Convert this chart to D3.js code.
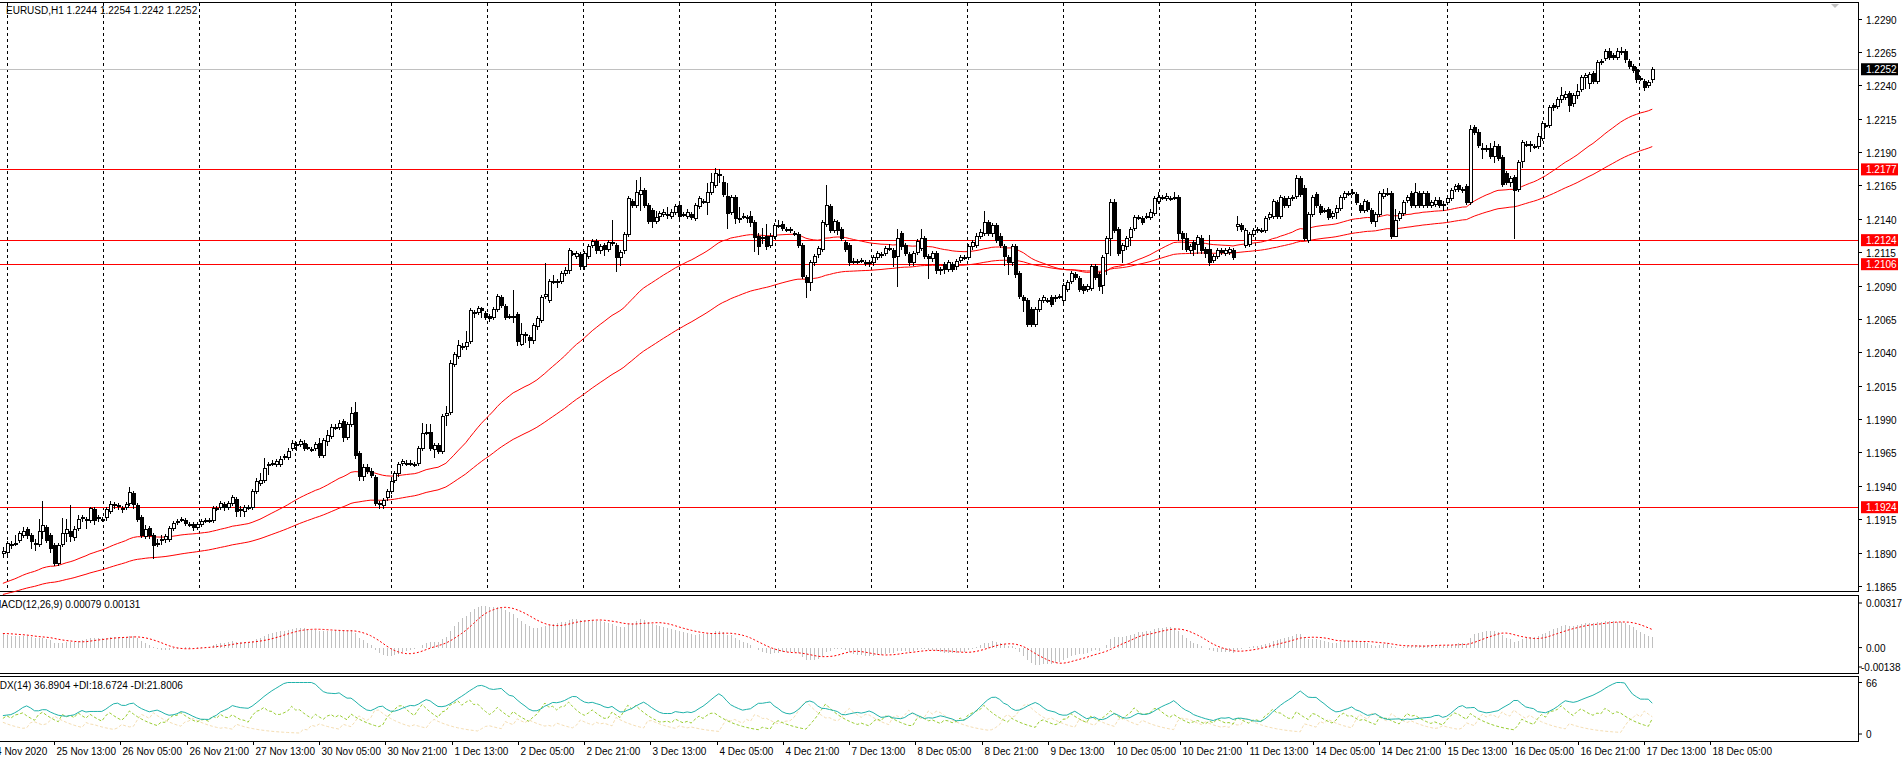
<!DOCTYPE html>
<html>
<head>
<meta charset="utf-8">
<script src="https://cdn.jsdelivr.net/npm/d3@7"></script>
<style>
  body { margin: 0; background: #fff; }
  svg { display: block; font-family: "Liberation Sans", Arial, sans-serif; }
  .crisp { shape-rendering: crispEdges; }
</style>
</head>
<body>
<svg id="chart" width="1904" height="760"></svg>
<script>
// ===== data (EURUSD H1, prices as 1.xxxx -> xxxx) =====
// [open, close, high, low]
const barsWeek1 = [
[1889,1891,1894,1886],[1890,1897,1899,1888],[1896,1896,1899,1893],[1897,1897,1903,1895],[1899,1904,1906,1897],
[1903,1906,1909,1901],[1907,1903,1909,1900],[1903,1898,1905,1893],[1897,1897,1900,1891],[1896,1906,1915,1894],
[1906,1910,1929,1900],[1909,1899,1911,1897],[1903,1893,1905,1890],[1895,1882,1897,1880],[1882,1895,1897,1880],
[1896,1904,1916,1894],[1904,1907,1915,1898],[1906,1902,1926,1898],[1901,1907,1910,1899],[1908,1915,1918,1906],
[1916,1916,1918,1913],[1915,1915,1917,1908],[1914,1923,1924,1912],[1922,1914,1924,1911],[1916,1916,1918,1913],
[1915,1915,1917,1913],[1916,1922,1924,1914],[1921,1926,1929,1919],[1926,1926,1928,1923],[1925,1925,1927,1922],
[1923,1923,1925,1920],[1924,1926,1928,1922],[1927,1935,1939,1925],[1934,1926,1936,1923],[1925,1915,1927,1913],
[1916,1903,1918,1901],[1902,1907,1911,1900],[1908,1903,1910,1900],[1903,1895,1905,1885],[1897,1897,1900,1894],
[1899,1900,1903,1896],[1900,1902,1904,1897],[1900,1908,1910,1898],[1908,1912,1914,1906],[1913,1913,1915,1911],
[1915,1915,1917,1913],[1914,1912,1916,1910],[1911,1911,1913,1909],[1911,1909,1913,1906],[1909,1911,1913,1907],
[1911,1913,1915,1909],[1914,1914,1916,1912],[1914,1914,1916,1912],[1914,1923,1925,1912],[1923,1923,1925,1921],
[1924,1927,1929,1922],[1926,1924,1928,1921],[1924,1927,1929,1922],[1927,1931,1933,1925],[1930,1921,1932,1917],
[1922,1922,1925,1917],[1921,1924,1926,1917],[1924,1924,1926,1922],[1924,1936,1938,1922],[1936,1943,1946,1934],
[1942,1944,1950,1940],[1944,1953,1961,1942],[1956,1956,1958,1948],[1957,1957,1959,1955],[1956,1958,1960,1954],
[1956,1960,1962,1954],[1961,1962,1964,1959],[1961,1966,1968,1959],[1968,1972,1974,1966],[1971,1971,1973,1966],
[1971,1973,1975,1969],[1972,1968,1974,1966],[1969,1969,1971,1967],[1967,1967,1969,1965],[1968,1971,1973,1966],
[1972,1963,1976,1961],[1963,1974,1976,1961],[1973,1978,1982,1970],[1977,1984,1986,1975],[1984,1984,1986,1982],
[1984,1987,1989,1982],[1988,1976,1990,1973],[1976,1986,1988,1974],[1986,1994,1999,1984],[1995,1963,2003,1960],
[1964,1947,1966,1944],[1947,1954,1956,1944],[1954,1951,1956,1949],[1951,1948,1953,1946],[1946,1927,1948,1925],
[1927,1927,1929,1923],[1925,1929,1931,1923],[1931,1936,1938,1929],[1936,1943,1945,1934],[1944,1949,1951,1942],
[1949,1956,1958,1947],[1957,1958,1960,1955],[1957,1957,1959,1955],[1957,1957,1959,1955],[1956,1956,1958,1954],
[1957,1968,1970,1955],[1968,1979,1987,1966],[1980,1980,1986,1978],[1980,1968,1986,1966],[1967,1970,1972,1961],
[1970,1966,1972,1964],[1966,1992,1994,1964],[1993,1994,2000,1985],[1995,2032,2034,1993],[2031,2038,2040,2029],
[2037,2045,2049,2035],[2044,2044,2047,2042]
];
const barsWeek2 = [
[2044,2047,2056,2042],[2048,2071,2073,2046],[2070,2070,2072,2066],[2070,2073,2075,2068],[2073,2071,2074,2066],
[2069,2066,2071,2064],[2067,2065,2069,2063],[2066,2072,2074,2064],[2072,2082,2084,2070],[2081,2075,2083,2073],
[2074,2066,2076,2064],[2067,2067,2069,2065],[2067,2067,2087,2062],[2068,2048,2070,2045],[2046,2053,2062,2045],
[2053,2053,2055,2047],[2051,2049,2053,2043],[2049,2060,2062,2046],[2059,2065,2067,2057],[2064,2081,2083,2062],
[2082,2083,2107,2080],[2079,2093,2095,2077],[2093,2093,2098,2091],[2093,2093,2095,2088],[2093,2099,2101,2091],
[2099,2101,2104,2097],[2101,2116,2118,2099],[2114,2114,2116,2112],[2112,2114,2116,2110],[2113,2104,2115,2102],
[2104,2114,2116,2102],[2112,2119,2121,2110],[2120,2123,2125,2118],[2123,2116,2125,2114],[2116,2119,2121,2114],
[2120,2117,2122,2112],[2117,2122,2124,2115],[2122,2122,2139,2120],[2120,2111,2122,2100],[2111,2115,2117,2105],
[2116,2128,2130,2114],[2128,2155,2157,2126],[2153,2150,2155,2148],[2150,2160,2169,2148],[2158,2161,2171,2146],
[2161,2150,2163,2148],[2150,2138,2152,2136],[2146,2138,2148,2133],[2138,2141,2146,2136],[2142,2144,2146,2138],
[2143,2145,2147,2141],[2143,2143,2149,2140],[2142,2145,2147,2140],[2145,2149,2151,2143],[2150,2142,2152,2139],
[2143,2143,2145,2141],[2142,2145,2147,2140],[2143,2141,2145,2139],[2140,2150,2152,2138],[2149,2155,2157,2147],
[2153,2153,2155,2151],[2152,2160,2167,2143],[2160,2167,2174,2158],[2165,2174,2178,2163],[2173,2173,2177,2167],
[2167,2158,2172,2156],[2157,2144,2167,2132],[2145,2156,2158,2143],[2156,2140,2158,2136],[2140,2140,2149,2137],
[2142,2142,2144,2140],[2141,2140,2143,2137],[2142,2137,2146,2134],[2137,2126,2139,2115],[2127,2119,2129,2113],
[2126,2126,2133,2121],[2127,2119,2136,2117],[2120,2127,2129,2118],[2127,2135,2137,2125],[2135,2135,2139,2133],
[2136,2133,2138,2131],[2132,2132,2134,2130],[2132,2131,2134,2129],[2129,2129,2131,2127],[2128,2120,2130,2118],
[2120,2097,2122,2095],[2096,2092,2098,2081],[2092,2107,2109,2086],[2107,2112,2114,2105],[2113,2118,2120,2111],
[2117,2137,2139,2115],[2136,2150,2165,2134],[2149,2131,2151,2129],[2131,2138,2140,2129],[2137,2131,2139,2128],
[2132,2125,2134,2123],[2122,2117,2124,2115],[2120,2107,2122,2105],[2108,2108,2111,2106],[2108,2108,2110,2106],
[2109,2109,2111,2107],[2107,2107,2109,2105],[2107,2107,2109,2104],[2107,2111,2113,2105],[2111,2114,2116,2109],
[2113,2113,2115,2111],[2114,2118,2120,2112],[2118,2118,2121,2116],[2116,2111,2118,2104],[2112,2125,2132,2089]
];
const barsWeek3 = [
[2129,2119,2131,2117],[2120,2114,2122,2112],[2113,2107,2115,2105],[2107,2114,2116,2105],[2115,2123,2125,2113],
[2118,2125,2132,2116],[2125,2112,2127,2110],[2112,2110,2114,2095],[2110,2114,2116,2108],[2114,2101,2116,2099],
[2102,2101,2104,2098],[2106,2102,2108,2099],[2102,2107,2109,2100],[2106,2102,2108,2100],[2104,2108,2110,2102],
[2109,2111,2113,2107],[2111,2111,2113,2109],[2111,2119,2121,2109],[2119,2122,2124,2117],[2120,2127,2129,2118],
[2127,2130,2132,2125],[2129,2137,2146,2127],[2137,2129,2139,2127],[2129,2135,2137,2126],[2135,2124,2137,2122],
[2127,2120,2129,2118],[2119,2112,2121,2105],[2111,2107,2113,2098],[2107,2119,2121,2105],[2119,2098,2121,2096],
[2099,2082,2101,2080],[2081,2079,2083,2070],[2079,2061,2081,2059],[2072,2061,2074,2059],[2061,2072,2074,2059],
[2072,2079,2081,2070],[2079,2081,2083,2077],[2079,2079,2081,2077],[2081,2076,2083,2074],[2080,2081,2083,2078],
[2081,2082,2084,2080],[2079,2090,2092,2077],[2087,2092,2094,2085],[2093,2099,2101,2091],[2098,2096,2100,2094],
[2095,2087,2097,2085],[2089,2086,2091,2084],[2087,2089,2091,2085],[2088,2104,2106,2086],[2104,2096,2106,2094],
[2098,2089,2100,2086],[2090,2111,2113,2084],[2114,2125,2127,2098],[2125,2152,2155,2112],[2152,2131,2155,2129],
[2132,2114,2134,2112],[2116,2120,2122,2107],[2119,2125,2127,2117],[2126,2132,2134,2120],[2133,2141,2143,2131],
[2141,2141,2143,2139],[2140,2137,2142,2135],[2142,2142,2144,2140],[2141,2145,2147,2139],[2144,2155,2157,2142],
[2153,2156,2160,2151],[2156,2156,2158,2154],[2155,2157,2159,2153],[2155,2155,2157,2153],[2156,2156,2160,2154],
[2156,2129,2158,2123],[2129,2125,2131,2117],[2125,2117,2129,2115],[2116,2119,2121,2114],[2122,2117,2124,2112],
[2121,2126,2128,2114],[2125,2116,2128,2114],[2117,2114,2119,2111],[2117,2107,2128,2105],[2109,2112,2114,2107],
[2112,2116,2118,2110],[2116,2115,2118,2113],[2114,2116,2118,2112],[2115,2117,2119,2113],[2116,2111,2118,2109],
[2134,2136,2142,2131],[2135,2132,2137,2130],[2120,2131,2133,2118],[2121,2128,2130,2119],[2128,2131,2133,2126],
[2131,2132,2134,2129],[2131,2131,2133,2129],[2131,2140,2142,2129],[2141,2143,2145,2139],[2142,2153,2155,2140],
[2152,2142,2154,2140],[2142,2156,2158,2140],[2155,2150,2157,2148],[2150,2155,2157,2148],[2155,2156,2158,2153],
[2157,2170,2173,2155],[2170,2158,2172,2156],[2163,2125,2165,2123],[2124,2143,2145,2122],[2143,2156,2158,2141],
[2158,2150,2160,2148],[2149,2145,2151,2143],[2146,2146,2148,2144],[2147,2141,2149,2139],[2142,2144,2146,2140]
];
const barsWeek4 = [
[2145,2148,2150,2140],[2148,2156,2158,2146],[2156,2159,2161,2154],[2159,2159,2161,2157],[2160,2160,2162,2158],
[2158,2152,2160,2150],[2150,2146,2152,2144],[2146,2153,2155,2144],[2152,2147,2154,2145],[2146,2138,2148,2136],
[2138,2143,2145,2134],[2143,2159,2161,2141],[2157,2159,2162,2155],[2159,2159,2163,2157],[2159,2127,2161,2125],
[2127,2139,2147,2127],[2140,2144,2146,2138],[2144,2152,2154,2142],[2154,2156,2158,2152],[2159,2150,2161,2148],
[2150,2160,2167,2148],[2159,2150,2161,2148],[2150,2159,2161,2148],[2159,2150,2161,2148],[2150,2152,2154,2148],
[2151,2154,2156,2149],[2154,2150,2156,2148],[2150,2151,2153,2146],[2152,2155,2157,2150],[2155,2161,2163,2153],
[2162,2164,2166,2160],[2165,2162,2167,2160],[2161,2162,2164,2159],[2164,2152,2166,2150],[2152,2207,2210,2150],
[2208,2205,2210,2203],[2205,2195,2207,2193],[2193,2193,2197,2185],[2193,2192,2195,2190],[2193,2187,2197,2185],
[2187,2194,2198,2182],[2194,2185,2196,2183],[2186,2166,2188,2164],[2174,2167,2176,2165],[2167,2170,2172,2164],
[2171,2161,2173,2125],[2162,2182,2184,2160],[2183,2197,2199,2178],[2196,2196,2198,2194],[2196,2196,2198,2190],
[2194,2194,2196,2192],[2194,2202,2204,2192],[2200,2211,2213,2198],[2210,2210,2212,2208],[2210,2223,2225,2208],
[2225,2223,2227,2221],[2224,2229,2231,2222],[2229,2232,2239,2227],[2231,2233,2236,2229],[2234,2225,2236,2220],
[2226,2232,2234,2224],[2232,2235,2241,2230],[2237,2246,2248,2235],[2246,2247,2249,2237],[2241,2248,2250,2237],
[2249,2243,2251,2241],[2243,2257,2259,2241],[2257,2258,2260,2255],[2260,2265,2267,2258],[2265,2261,2268,2259],
[2262,2261,2264,2259],[2261,2265,2268,2259],[2265,2265,2269,2263],[2265,2259,2267,2257],[2258,2254,2260,2252],
[2254,2251,2256,2249],[2252,2244,2254,2242],[2245,2245,2247,2243],[2243,2238,2245,2236],[2240,2242,2244,2238],
[2244,2252,2254,2242]
];

const priceTicks = [1.2290,1.2265,1.2240,1.2215,1.2190,1.2165,1.2140,1.2115,1.2090,1.2065,1.2040,1.2015,
                    1.1990,1.1965,1.1940,1.1915,1.1890,1.1865];
const levels = [1.2177, 1.2124, 1.2106, 1.1924];
const lastPrice = 1.2252;
const timeLabels = ["24 Nov 2020","25 Nov 13:00","26 Nov 05:00","26 Nov 21:00","27 Nov 13:00","30 Nov 05:00",
  "30 Nov 21:00","1 Dec 13:00","2 Dec 05:00","2 Dec 21:00","3 Dec 13:00","4 Dec 05:00","4 Dec 21:00",
  "7 Dec 13:00","8 Dec 05:00","8 Dec 21:00","9 Dec 13:00","10 Dec 05:00","10 Dec 21:00","11 Dec 13:00",
  "14 Dec 05:00","14 Dec 21:00","15 Dec 13:00","16 Dec 05:00","16 Dec 21:00","17 Dec 13:00","18 Dec 05:00"];
const maPeriods = [50, 100];
const maSeeds = [1.1866, 1.1858];

// ===== prepare =====
const px = v => 1 + v / 10000;
const bars = [...barsWeek1, ...barsWeek2, ...barsWeek3, ...barsWeek4]
  .map(([o, c, h, l], i) => ({ i, o: px(o), c: px(c), h: px(h), l: px(l) }));
const N = bars.length;

function ema(vals, n, seed) {
  const k = 2 / (n + 1); let e = seed;
  return vals.map(v => (e = e + k * (v - e)));
}
const closes = bars.map(b => b.c);
const maFast = ema(closes, maPeriods[0], maSeeds[0]);
const maSlow = ema(closes, maPeriods[1], maSeeds[1]);

// MACD(12,26,9)
const e12 = ema(closes, 12, closes[0] + 0.0005);
const e26 = ema(closes, 26, closes[0] - 0.0006);
const macd = e12.map((v, i) => v - e26[i]);
const signal = macd.map((v, i) => {
  const s = macd.slice(Math.max(0, i - 8), i + 1);
  return i < 8 ? 0.0010 + (d3.mean(s) - 0.0010) * (i / 8) : d3.mean(s);
});

// ADX(14), MetaTrader style (EMA smoothing of per-bar DI)
const pSdi = [], mSdi = [];
bars.forEach((b, i) => {
  if (i === 0) { pSdi.push(20); mSdi.push(15); return; }
  const p = bars[i - 1];
  let up = b.h - p.h, dn = p.l - b.l;
  if (up < 0) up = 0;
  if (dn < 0) dn = 0;
  if (up > dn) dn = 0; else if (dn > up) up = 0; else { up = 0; dn = 0; }
  const tr = Math.max(b.h - b.l, Math.abs(b.h - p.c), Math.abs(b.l - p.c));
  pSdi.push(tr ? 100 * up / tr : 0);
  mSdi.push(tr ? 100 * dn / tr : 0);
});
const pdi = ema(pSdi, 14, 20);
const mdi = ema(mSdi, 14, 15);
const dxs = pdi.map((p, i) => (p + mdi[i]) ? 100 * Math.abs(p - mdi[i]) / (p + mdi[i]) : 0);
const adx = ema(dxs, 14, 25);

// ===== layout =====
const svg = d3.select('#chart');
const R = 1858;              // right edge of plot area
const main = { top: 2, bottom: 591 };
const macdP = { top: 595, bottom: 673 };
const adxP = { top: 676, bottom: 741 };

const xSlot = d3.scaleLinear().domain([0, 1]).range([-12, -12 + 4.14]);
const x = d3.scaleLinear().domain([0, N - 1]).range([xSlot(3.6), xSlot(402)]);
const y = d3.scaleLinear().domain([1.1865, 1.2290]).range([586, 18.5]);
const yM = d3.scaleLinear().domain([-0.00138, 0.00317]).range([667, 603]);
const yA = d3.scaleLinear().domain([0, 66]).range([734, 682.5]);

// panels
[main, macdP, adxP].forEach(p => {
  svg.append('rect').attr('class', 'crisp').attr('x', -1).attr('y', p.top).attr('width', R + 1)
    .attr('height', p.bottom - p.top).attr('fill', 'none').attr('stroke', '#000');
});

// vertical dashed grid (main panel only)
const g = svg.append('g');
d3.range(4.5, 402, 23.19).forEach(s => {
  const gx = Math.round(xSlot(s)) + 0.5;
  g.append('line').attr('class', 'crisp').attr('x1', gx).attr('x2', gx).attr('y1', main.top + 1).attr('y2', main.bottom - 1)
    .attr('stroke', '#000').attr('stroke-dasharray', '3,3');
});

// current price line
svg.append('line').attr('class', 'crisp').attr('x1', 0).attr('x2', R).attr('y1', Math.round(y(lastPrice)) + 0.5)
  .attr('y2', Math.round(y(lastPrice)) + 0.5).attr('stroke', '#c0c0c0');

// level lines
levels.forEach(v => {
  const ly = Math.round(y(v)) + 0.5;
  svg.append('line').attr('class', 'crisp').attr('x1', 0).attr('x2', R).attr('y1', ly).attr('y2', ly)
    .attr('stroke', '#ff0000').attr('stroke-width', 1);
});

// moving averages
const line = d3.line().x((d, i) => x(i)).y(d => y(d));
[maFast, maSlow].forEach(m => svg.append('path').attr('d', line(m))
  .attr('fill', 'none').attr('stroke', '#ff0000').attr('stroke-width', 1));

// candles
const cg = svg.append('g').attr('class', 'crisp').selectAll('g').data(bars).join('g');
cg.append('line')
  .attr('x1', d => Math.round(x(d.i)) + 0.5).attr('x2', d => Math.round(x(d.i)) + 0.5)
  .attr('y1', d => y(d.h)).attr('y2', d => y(d.l)).attr('stroke', '#000');
cg.append('rect')
  .attr('x', d => Math.round(x(d.i)) - 1)
  .attr('y', d => y(Math.max(d.o, d.c)))
  .attr('width', 3)
  .attr('height', d => Math.max(1, Math.abs(y(d.o) - y(d.c))))
  .attr('fill', d => d.c >= d.o ? '#fff' : '#000').attr('stroke', '#000');

// right price axis
const ax = svg.append('g').attr('font-size', 10).attr('fill', '#000');
priceTicks.forEach(v => {
  const ty = Math.round(y(v)) + 0.5;
  ax.append('line').attr('x1', R).attr('x2', R + 4).attr('y1', ty).attr('y2', ty).attr('stroke', '#000');
  ax.append('text').attr('x', R + 8).attr('y', ty + 4).text(v.toFixed(4));
});
function priceTag(v, color) {
  const ty = y(v);
  svg.append('rect').attr('x', R + 3).attr('y', ty - 6).attr('width', 37).attr('height', 12).attr('fill', color);
  svg.append('text').attr('x', R + 8).attr('y', ty + 4).attr('font-size', 10).attr('fill', '#fff').text(v.toFixed(4));
}
levels.forEach(v => priceTag(v, '#ff0000'));
priceTag(lastPrice, '#000');

// shift marker
svg.append('path').attr('d', 'M1831,4 L1839,4 L1835,8 Z').attr('fill', '#c0c0c0');

// header
svg.append('text').attr('x', 6).attr('y', 14).attr('font-size', 10).text('EURUSD,H1  1.2244 1.2254 1.2242 1.2252');

// MACD panel
svg.append('g').attr('class', 'crisp').selectAll('line').data(macd).join('line')
  .attr('x1', (d, i) => Math.round(x(i)) + 0.5).attr('x2', (d, i) => Math.round(x(i)) + 0.5)
  .attr('y1', yM(0)).attr('y2', d => yM(Math.max(-0.00138, Math.min(0.00317, d))))
  .attr('stroke', '#c0c0c0').attr('stroke-width', 1);
svg.append('path').attr('d', d3.line().x((d, i) => x(i)).y(d => yM(d))(signal))
  .attr('fill', 'none').attr('stroke', '#ff0000').attr('stroke-dasharray', '2,2');
svg.append('text').attr('x', -7).attr('y', 608).attr('font-size', 10).text('MACD(12,26,9) 0.00079 0.00131');
[[0.00317, '0.00317'], [0, '0.00'], [-0.00138, '-0.00138']].forEach(([v, t]) => {
  svg.append('line').attr('x1', R).attr('x2', R + 4).attr('y1', yM(v)).attr('y2', yM(v)).attr('stroke', '#000');
  svg.append('text').attr('x', v < 0 ? R + 3 : R + 8).attr('y', yM(v) + 4).attr('font-size', 10).text(t);
});

// ADX panel
const lineA = d3.line().x((d, i) => x(i)).y(d => yA(Math.min(66, d)));
svg.append('path').attr('d', lineA(mdi)).attr('fill', 'none').attr('stroke', '#f5deb3').attr('stroke-dasharray', '3,2');
svg.append('path').attr('d', lineA(pdi)).attr('fill', 'none').attr('stroke', '#9acd32').attr('stroke-dasharray', '3,2');
svg.append('path').attr('d', lineA(adx)).attr('fill', 'none').attr('stroke', '#20b2aa');
svg.append('text').attr('x', -7).attr('y', 689).attr('font-size', 10).text('ADX(14) 36.8904 +DI:18.6724 -DI:21.8006');
[[66, '66'], [0, '0']].forEach(([v, t]) => {
  svg.append('line').attr('x1', R).attr('x2', R + 4).attr('y1', yA(v)).attr('y2', yA(v)).attr('stroke', '#000');
  svg.append('text').attr('x', R + 8).attr('y', yA(v) + 4).attr('font-size', 10).text(t);
});

// time axis
const tg = svg.append('g').attr('font-size', 10);
timeLabels.forEach((t, k) => {
  const tx = Math.round(xSlot(16 * k)) + 0.5;
  tg.append('line').attr('x1', tx).attr('x2', tx).attr('y1', adxP.bottom).attr('y2', adxP.bottom + 4).attr('stroke', '#000');
  tg.append('text').attr('x', tx + 2).attr('y', 755).text(t);
});
</script>
</body>
</html>
